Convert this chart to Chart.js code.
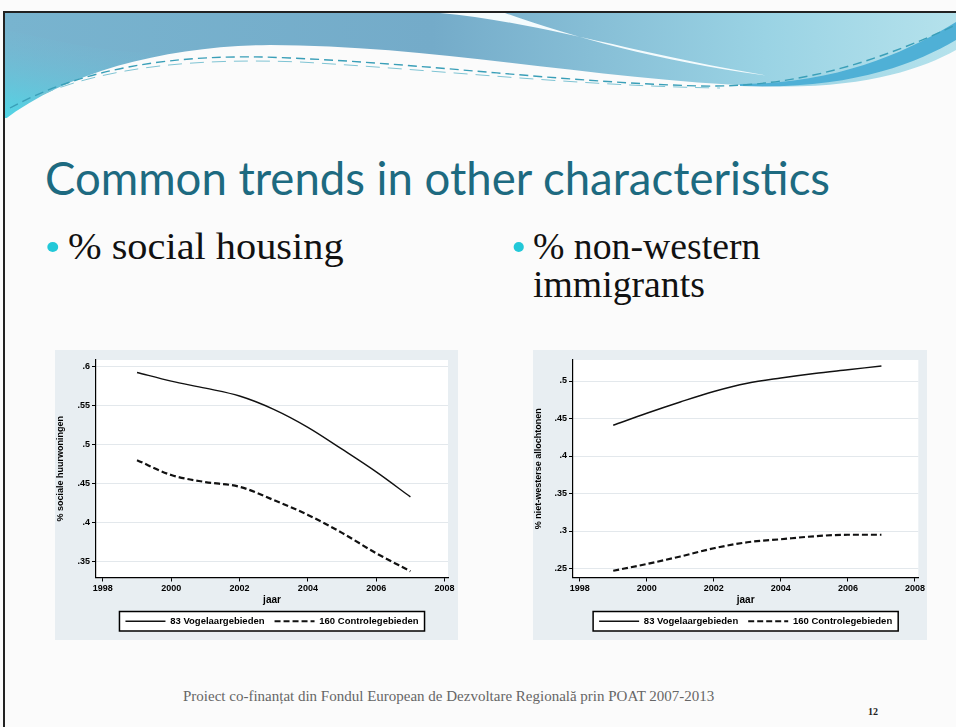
<!DOCTYPE html>
<html>
<head>
<meta charset="utf-8">
<script src="https://cdn.jsdelivr.net/npm/chart.js@4.4.0/dist/chart.umd.min.js"></script>
<style>
  body { margin: 0; width: 956px; height: 727px; overflow: hidden; background: #fbfbfb; position: relative; }
  .frame-top { position: absolute; left: 3px; top: 11px; width: 953px; height: 2px; background: #222; }
  .frame-left { position: absolute; left: 3px; top: 11px; width: 2px; height: 716px; background: #222; }
  .title { position: absolute; left: 45px; top: 150px; font-family: Lato, sans-serif; font-size: 45.5px; color: #1d6a80; white-space: nowrap; }
  .bullet { position: absolute; font-family: 'Liberation Serif', serif; font-size: 37px; line-height: 38px; color: #111; white-space: nowrap; transform-origin: left top; }
  .bullet::before { content: ''; position: absolute; left: -19px; top: 14px; width: 10px; height: 10px; border-radius: 50%; background: #22c8d8; }
  .footer { position: absolute; left: 183px; top: 688px; font-family: 'Liberation Serif', serif; font-size: 15px; color: #666; white-space: nowrap; }
  .page { position: absolute; left: 868px; top: 706px; font-family: 'Liberation Serif', serif; font-size: 10px; font-weight: bold; color: #222; }
  canvas { position: absolute; }
</style>
</head>
<body>
<svg width="956" height="130" style="position:absolute;left:0;top:0">
  <defs>
    <linearGradient id="band" x1="0" y1="0" x2="1" y2="0">
      <stop offset="0" stop-color="#78b4cf"/>
      <stop offset="0.45" stop-color="#74abc9"/>
      <stop offset="0.8" stop-color="#9ad3e4"/>
      <stop offset="1" stop-color="#b5e2ec"/>
    </linearGradient>
    <linearGradient id="cyan" x1="0" y1="1" x2="0.4" y2="0">
      <stop offset="0" stop-color="#4fd6e6"/>
      <stop offset="1" stop-color="#7ab8d2" stop-opacity="0"/>
    </linearGradient>
  </defs>
  <rect x="4" y="13" width="952" height="105" fill="url(#band)"/>
  <path d="M4,30 C60,40 120,60 200,50 L200,118 L4,118 Z" fill="url(#cyan)"/>
  <path d="M440,13 C540,22 640,55 770,76 C660,62 570,36 505,13 Z" fill="#f4fbfd"/>
  <path d="M4,120 C70,70 170,46 270,45 C430,45 600,80 760,86 C860,90 920,70 956,50 L956,130 L4,130 Z" fill="#fbfbfb"/>
  <path d="M740,84 C840,84 910,50 956,22 L956,40 C915,64 850,90 740,86 Z" fill="#4fb0d6"/>
  <path d="M10,108 C80,70 170,52 290,58 C430,64 560,82 700,86 C800,88 880,60 956,25" fill="none" stroke="#3a9fb8" stroke-width="1.4" stroke-dasharray="9 5"/>
  <path d="M40,95 C110,66 200,58 300,62 C440,70 580,86 720,88" fill="none" stroke="#7fc4d4" stroke-width="1" stroke-dasharray="14 8"/>
</svg>
<div class="frame-top"></div>
<div class="frame-left"></div>

<div class="title">Common trends in other characteristics</div>
<div class="bullet" style="left:68px;top:228px;transform:scaleX(1.09);">% social housing</div>
<div class="bullet" style="left:533px;top:228px;transform:scaleX(1.02);">% non-western<br>immigrants</div>

<canvas id="housing" width="403" height="290" style="left:55px;top:350px;"></canvas>
<canvas id="immigrants" width="394" height="290" style="left:533px;top:350px;"></canvas>

<div class="footer">Proiect co-finanțat din Fondul European de Dezvoltare Regională prin POAT 2007-2013</div>
<div class="page">12</div>

<script>
const years = [1999, 2000, 2001, 2002, 2003, 2004, 2005, 2006, 2007];
const yearTicks = [1998, 2000, 2002, 2004, 2006, 2008];
const seriesNames = ['83 Vogelaargebieden', '160 Controlegebieden'];

const housingVogelaar = [0.592, 0.581, 0.572, 0.562, 0.545, 0.522, 0.494, 0.465, 0.433];
const housingControl = [0.480, 0.461, 0.452, 0.446, 0.429, 0.410, 0.387, 0.361, 0.338];
const housingTicks = [0.35, 0.4, 0.45, 0.5, 0.55, 0.6];

const immigrantsVogelaar = [0.441, 0.457, 0.472, 0.486, 0.497, 0.504, 0.510, 0.515, 0.520];
const immigrantsControl = [0.247, 0.256, 0.266, 0.277, 0.285, 0.289, 0.293, 0.295, 0.295];
const immigrantsTicks = [0.25, 0.3, 0.35, 0.4, 0.45, 0.5];

function stataNum(v) {
  return v.toFixed(2).replace(/0$/, '').replace(/^0/, '');
}

function legendRect(chart) {
  const boxes = chart.legend.legendHitBoxes;
  const left = Math.min(...boxes.map(b => b.left));
  const right = Math.max(...boxes.map(b => b.left + b.width));
  const top = Math.min(...boxes.map(b => b.top));
  const bottom = Math.max(...boxes.map(b => b.top + b.height));
  return { x: left - 6, y: top - 5, w: right - left + 12, h: bottom - top + 10 };
}

const stataPanel = {
  id: 'stataPanel',
  beforeDraw(chart) {
    const { ctx, chartArea } = chart;
    ctx.save();
    ctx.fillStyle = '#e8eef2';
    ctx.fillRect(0, 0, chart.width, chart.height);
    ctx.fillStyle = '#ffffff';
    ctx.fillRect(chartArea.left, chartArea.top, chartArea.right - chartArea.left, chartArea.bottom - chartArea.top);
    const r = legendRect(chart);
    ctx.fillRect(r.x, r.y, r.w, r.h);
    ctx.restore();
  },
  afterDraw(chart) {
    const ctx = chart.ctx;
    const r = legendRect(chart);
    ctx.save();
    ctx.strokeStyle = '#000';
    ctx.lineWidth = 1.5;
    ctx.strokeRect(r.x, r.y, r.w, r.h);
    ctx.restore();
  }
};

function makeChart(id, vogelaar, control, yTicks, yTitle, yMin, yMax, axisWidth, padRight) {
  const bold = { family: "'Liberation Sans', Arial, sans-serif", weight: 'bold', size: 9 };
  return new Chart(document.getElementById(id).getContext('2d'), {
    type: 'line',
    data: {
      datasets: [{
        label: seriesNames[0],
        data: years.map((x, i) => ({ x: x, y: vogelaar[i] })),
        borderColor: '#111',
        borderWidth: 1.4,
        pointRadius: 0,
        cubicInterpolationMode: 'monotone'
      }, {
        label: seriesNames[1],
        data: years.map((x, i) => ({ x: x, y: control[i] })),
        borderColor: '#111',
        borderWidth: 2.2,
        borderDash: [6, 3],
        pointRadius: 0,
        cubicInterpolationMode: 'monotone'
      }]
    },
    options: {
      responsive: false,
      animation: false,
      layout: { padding: { left: 0, right: padRight, top: 10, bottom: 4 } },
      plugins: {
        legend: {
          position: 'bottom',
          fullSize: false,
          labels: {
            usePointStyle: true,
            pointStyle: 'line',
            pointStyleWidth: 40,
            padding: 10,
            color: '#000',
            font: { family: "'Liberation Sans', Arial, sans-serif", weight: 'bold', size: 9.5 },
            generateLabels(chart) {
              const items = Chart.defaults.plugins.legend.labels.generateLabels(chart);
              return items.map((item, i) => ({
                ...item,
                lineDash: chart.data.datasets[i].borderDash || [],
                lineWidth: i === 0 ? 1.6 : 2
              }));
            }
          }
        },
        tooltip: { enabled: false }
      },
      scales: {
        x: {
          type: 'linear',
          min: 1997.8,
          max: 2008.1,
          afterBuildTicks(scale) {
            scale.ticks = yearTicks.map(v => ({ value: v }));
          },
          afterFit(scale) {
            scale.height = 29;
          },
          ticks: { callback: v => String(v), color: '#000', font: bold, padding: 2, maxRotation: 0 },
          grid: { drawOnChartArea: false, tickColor: '#000', tickLength: 4 },
          border: { color: '#000', width: 1.2 },
          title: { display: true, text: 'jaar', color: '#000', font: { ...bold, size: 10 }, padding: 0 }
        },
        y: {
          min: yMin,
          max: yMax,
          afterBuildTicks(scale) {
            scale.ticks = yTicks.map(v => ({ value: v }));
          },
          afterFit(scale) {
            scale.width = axisWidth;
          },
          ticks: { callback: v => stataNum(v), color: '#000', font: bold, padding: 2 },
          grid: { color: '#e3e8ec', tickColor: '#000', tickLength: 4 },
          border: { color: '#000', width: 1.2 },
          title: { display: true, text: yTitle, color: '#000', font: bold, padding: 0 }
        }
      }
    },
    plugins: [stataPanel]
  });
}

makeChart('housing', housingVogelaar, housingControl, housingTicks, '% sociale huurwoningen', 0.33, 0.608, 41, 10);
makeChart('immigrants', immigrantsVogelaar, immigrantsControl, immigrantsTicks, '% niet-westerse allochtonen', 0.238, 0.528, 40, 4);
</script>
</body>
</html>
